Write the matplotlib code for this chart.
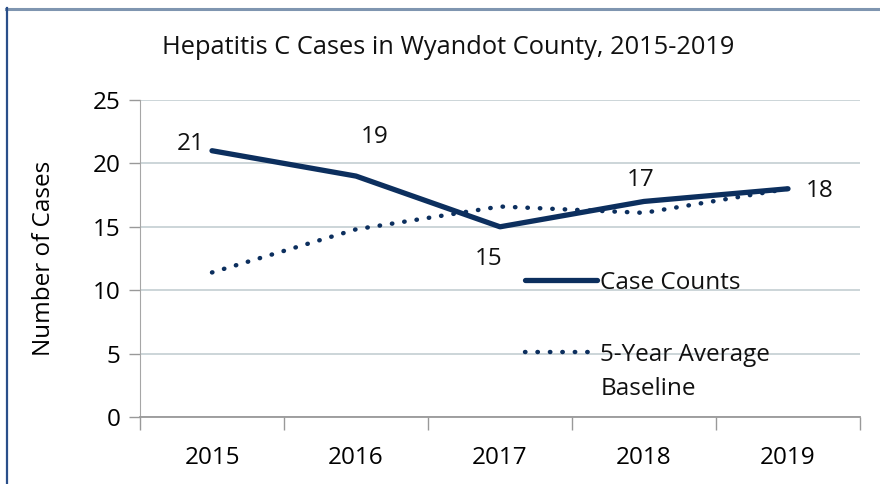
import matplotlib
matplotlib.use("Agg")
import matplotlib.pyplot as plt
from matplotlib.lines import Line2D

years = ["2015", "2016", "2017", "2018", "2019"]
case_counts = [21, 19, 15, 17, 18]
baseline = [11.4, 14.8, 16.6, 16.1, 18.0]
yticks = [0, 5, 10, 15, 20, 25]

plt.rcParams['font.family'] = ['Open Sans', 'DejaVu Sans']

W, H = 880, 484
FS = 17.5
fig = plt.figure(figsize=(W / 100, H / 100), dpi=100)
ax = fig.add_axes([140 / W, 1 - 417 / H, 720 / W, 317 / H])

navy = "#0c2f5e"
x = list(range(len(years)))
ax.plot(x, case_counts, color=navy, lw=3.8, solid_capstyle='round', label="Case Counts", zorder=3)
ax.plot(x, baseline, color=navy, lw=3.2, linestyle=(0, (0.1, 2.7)), dash_capstyle='round',
        label="5-Year Average", zorder=3)

ax.set_xlim(-0.5, len(years) - 0.5)
ax.set_ylim(0, 25)
ax.set_yticks(yticks)
ax.set_yticklabels([str(v) for v in yticks], fontsize=FS)
ax.set_xticks(x)
ax.set_xticklabels(years, fontsize=FS)
ax.tick_params(axis='x', length=0, pad=21)
ax.tick_params(axis='y', length=8, color="#999999", pad=6, width=1)
ax.set_xticks([i - 0.5 for i in range(len(years) + 1)], minor=True)
ax.tick_params(axis='x', which='minor', length=9, color="#999999", width=1)

ax.grid(axis='y', color="#c8d2d6", lw=1.3)
ax.set_axisbelow(True)
for s in ['top', 'right']:
    ax.spines[s].set_visible(False)
ax.spines['left'].set_color("#a6a6a6")
ax.spines['bottom'].set_color("#999999")
ax.spines['bottom'].set_linewidth(1.3)

ax.set_ylabel("Number of Cases", fontsize=FS)
ax.yaxis.set_label_coords(-(140 - 56) / 720, 0.5)

# data labels (pixel offsets from the point)
offsets = [(-21, 7), (19, 39), (-11, -32), (-3, 21), (32, -2)]
for i, (v, (dx, dy)) in enumerate(zip(case_counts, offsets)):
    ax.annotate(str(v), (i, v), xytext=(dx, dy), textcoords='offset pixels',
                ha='center', va='center', fontsize=FS, color="#111111")

fig.text(448 / W, 1 - 48 / H, "Hepatitis C Cases in Wyandot County, 2015-2019",
         ha='center', va='center', fontsize=18.3, color="#111111")

leg = ax.legend(loc='upper left', bbox_to_anchor=((525 - 140) / 720, (417 - 271) / 317),
                frameon=False, fontsize=FS, handlelength=2.95, handletextpad=0.15,
                labelspacing=1.96, borderaxespad=0, borderpad=0)
for t in leg.get_texts():
    t.set_color("#111111")

# second line of the baseline legend entry
fig.canvas.draw()
txt = leg.get_texts()[1]
bb = txt.get_window_extent()
fig.text(bb.x0 / W, (bb.y0 + bb.y1) / 2 / H - 34 / H, "Baseline", ha='left', va='center',
         fontsize=FS, color="#111111")

# outer frame
fig.add_artist(Line2D([6 / W, 1], [1 - 8.5 / H, 1 - 8.5 / H], color="#7f95b0", lw=2.2,
                      transform=fig.transFigure))
fig.add_artist(Line2D([6.5 / W, 6.5 / W], [0, 1 - 8 / H], color="#2a4f8a", lw=1.6,
                      transform=fig.transFigure))

fig.savefig("out.png", dpi=100)
